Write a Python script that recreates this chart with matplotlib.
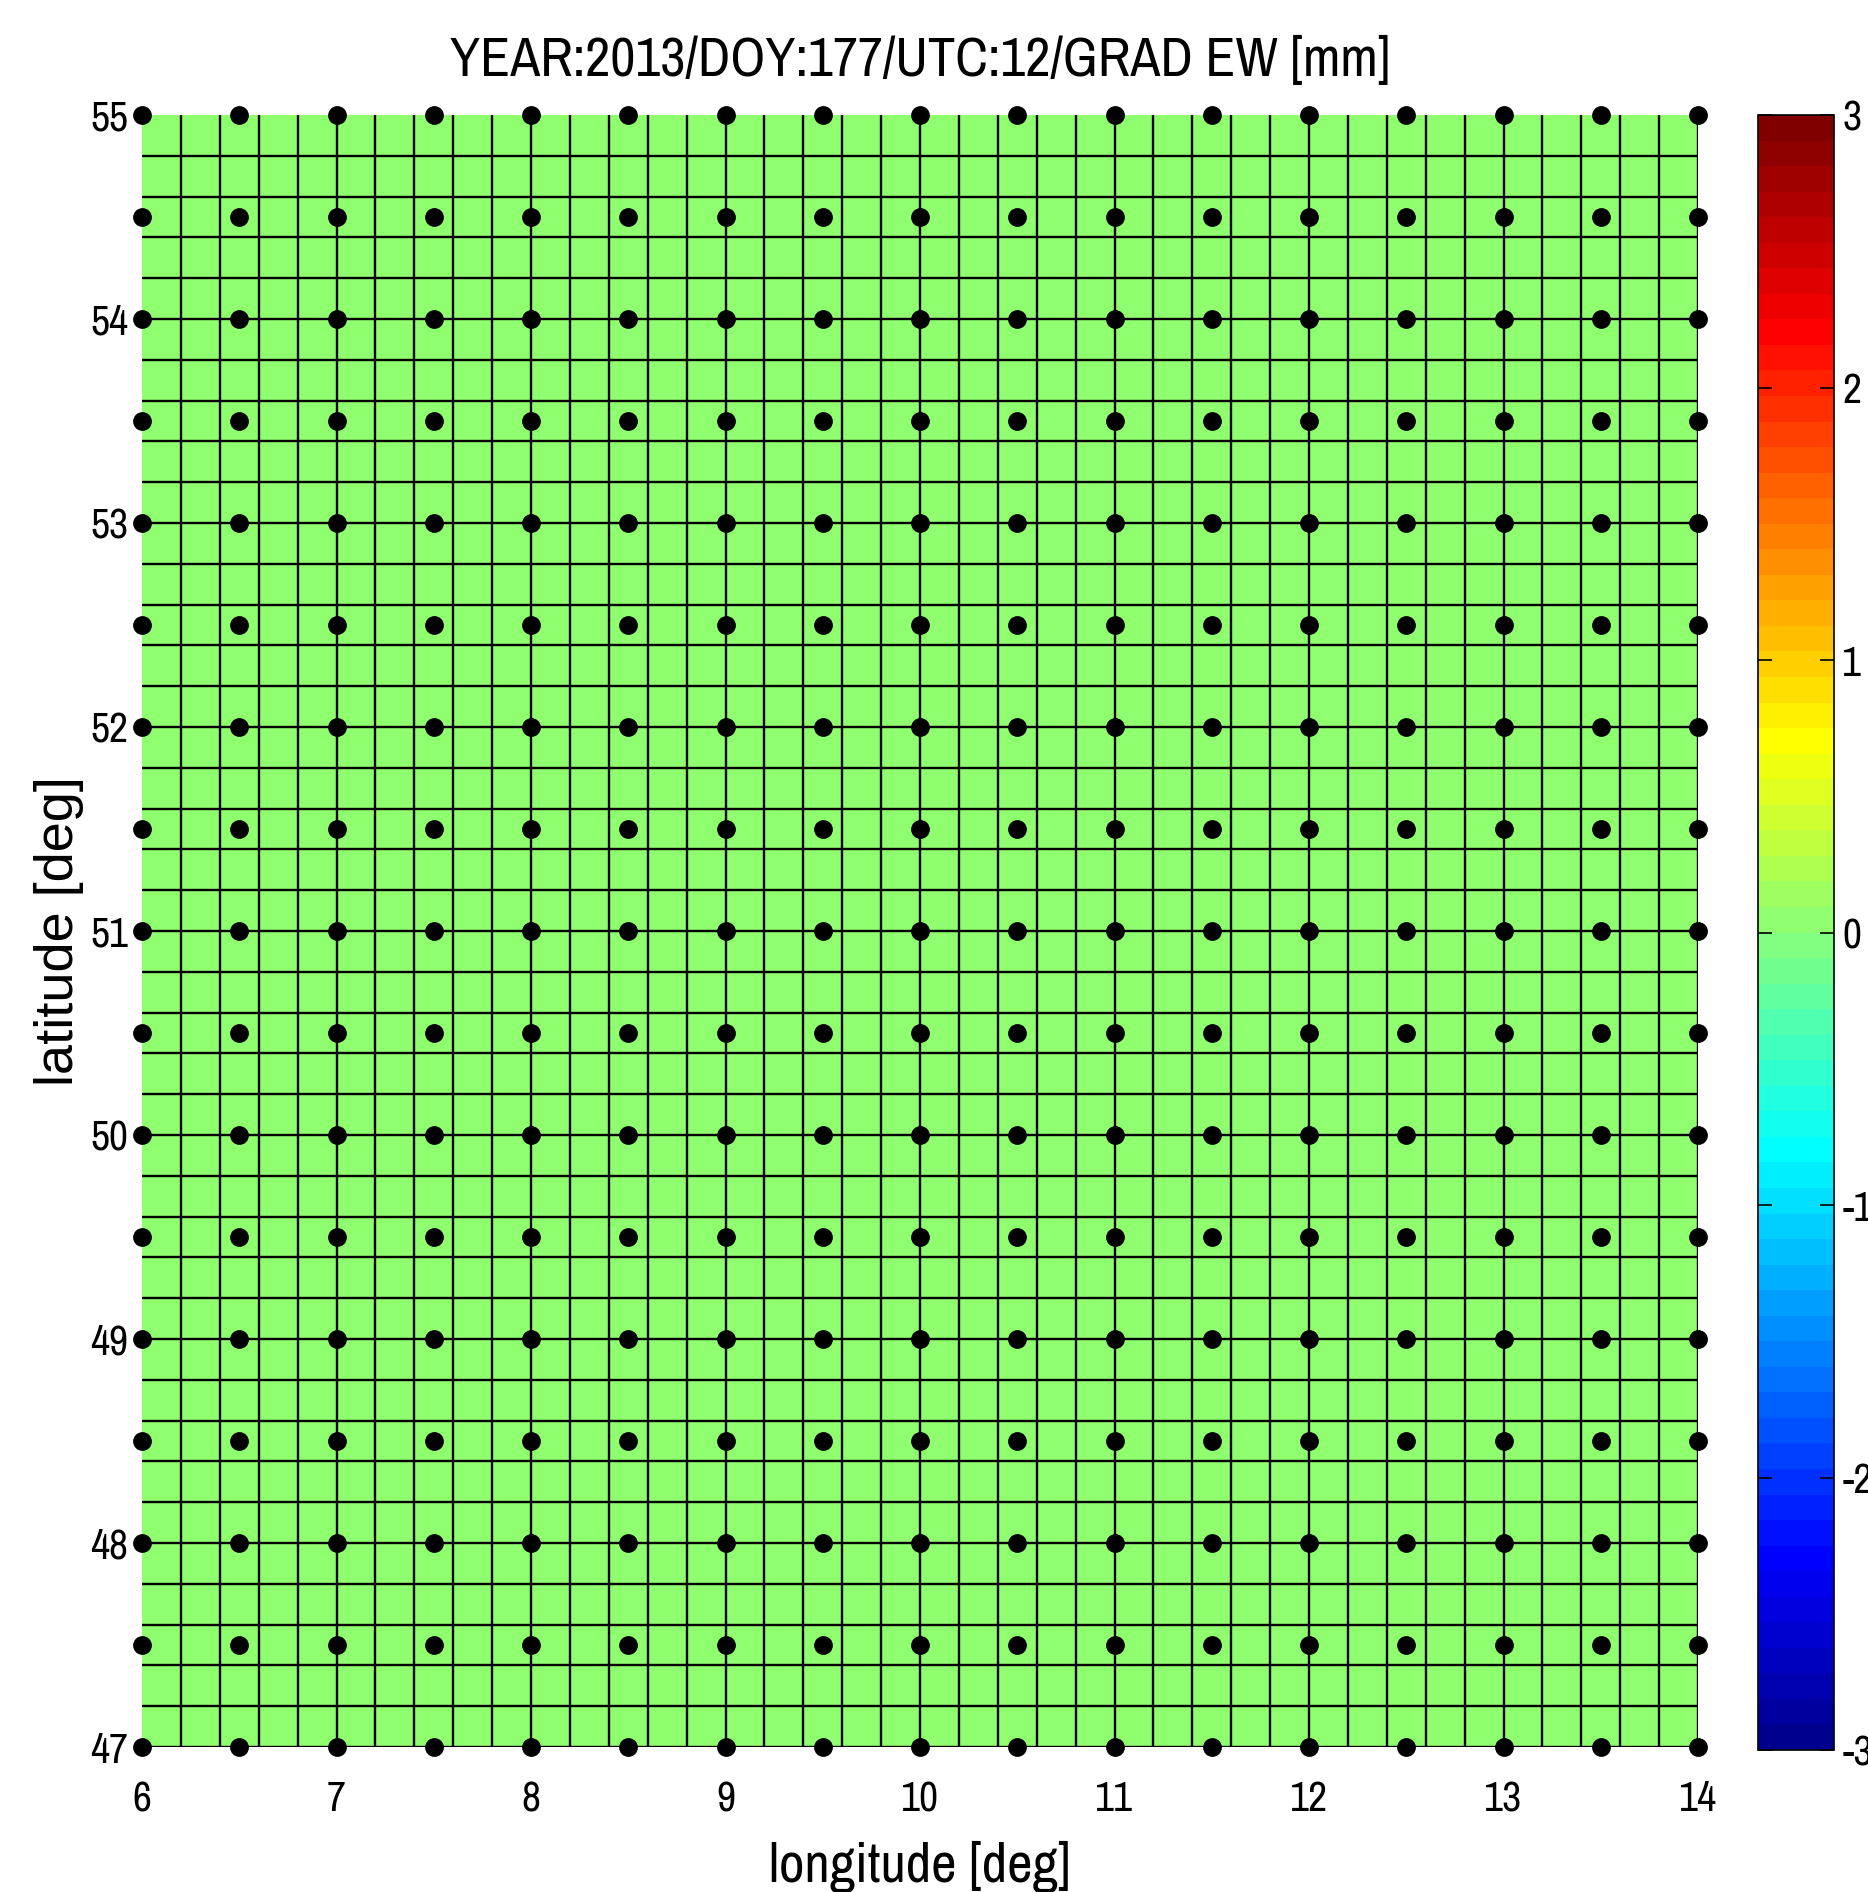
import numpy as np
import matplotlib
matplotlib.use("Agg")
import matplotlib.pyplot as plt
from matplotlib import font_manager as fm
from matplotlib.colors import ListedColormap

# ---- data ----
lon_edges = [6.0 + 0.2 * i for i in range(41)]
lat_edges = [47.0 + 0.2 * i for i in range(41)]
grad_ew = [[0.0] * 40 for _ in range(40)]          # all cells read as 0 mm
station_lon = [6.0 + 0.5 * i for i in range(17)]
station_lat = [47.0 + 0.5 * i for i in range(17)]
x_ticks = [6, 7, 8, 9, 10, 11, 12, 13, 14]
y_ticks = [47, 48, 49, 50, 51, 52, 53, 54, 55]
cbar_ticks = [-3, -2, -1, 0, 1, 2, 3]
title = "YEAR:2013/DOY:177/UTC:12/GRAD EW [mm]"


def matlab_jet(m=64):
    n = int(np.ceil(m / 4))
    u = np.concatenate([np.arange(1, n + 1) / n, np.ones(n - 1), np.arange(n, 0, -1) / n])
    g = int(np.ceil(n / 2)) - (1 if m % 4 == 1 else 0) + np.arange(1, len(u) + 1)
    r = g + n
    b = g - n
    J = np.zeros((m, 3))
    J[r[r <= m] - 1, 0] = u[r <= m]
    J[g[g <= m] - 1, 1] = u[g <= m]
    J[b[b >= 1] - 1, 2] = u[b >= 1]
    return ListedColormap(J)


names = {f.name for f in fm.fontManager.ttflist}
narrow = sorted(n for n in names if "Narrow" in n or "Condensed" in n)
fam = (["Liberation Sans Narrow"] if "Liberation Sans Narrow" in names else narrow[:1]) or ["Liberation Sans"]
plt.rcParams["font.family"] = fam + ["DejaVu Sans"]
is_narrow = fam[0] != "Liberation Sans"
fs_tick = 30 if is_narrow else 26
fs_xlab = 40 if is_narrow else 34
fs_title = 39.5 if is_narrow else 33

W, H = 1868, 1892
fig = plt.figure(figsize=(W / 100, H / 100), dpi=100)


def box(l, t, r, b):
    return [l / W, 1 - b / H, (r - l) / W, (b - t) / H]


ax = fig.add_axes(box(142, 115, 1698, 1747))
cmap = matlab_jet(64)
Z = np.array(grad_ew)
mesh = ax.pcolormesh(lon_edges, lat_edges, Z, cmap=cmap, vmin=-3, vmax=3, shading="flat")
ax.vlines(lon_edges[1:], lat_edges[0], lat_edges[-1], colors="k", linewidth=1.7)
ax.hlines(lat_edges[:-1], lon_edges[0], lon_edges[-1], colors="k", linewidth=1.7)
LX, LY = np.meshgrid(station_lon, station_lat)
ax.plot(LX.ravel(), LY.ravel(), "o", color="k", markersize=12.5, clip_on=False, zorder=5)
ax.set_xlim(lon_edges[0], lon_edges[-1])
ax.set_ylim(lat_edges[0], lat_edges[-1])
for s in ax.spines.values():
    s.set_visible(False)
ax.set_xticks(x_ticks)
ax.set_yticks(y_ticks)
ax.tick_params(axis="both", length=0, labelsize=fs_tick)
ax.tick_params(axis="x", pad=24)
ax.tick_params(axis="y", pad=10)
ax.set_xlabel("longitude [deg]", fontsize=fs_xlab, labelpad=16)
ax.set_ylabel("latitude [deg]", fontsize=39, labelpad=4,
              family=["Liberation Sans", "DejaVu Sans"])
ax.set_title(title, fontsize=fs_title, pad=28)

cax = fig.add_axes(box(1758, 115, 1834, 1750))
cb = fig.colorbar(mesh, cax=cax, ticks=cbar_ticks)
cb.outline.set_linewidth(1.2)
cax.tick_params(direction="in", length=10, width=1.2, left=True, right=True,
                labelsize=fs_tick, pad=6)
cax.set_yticklabels([str(t) for t in cbar_ticks])

fig.savefig("out.png", dpi=100)
